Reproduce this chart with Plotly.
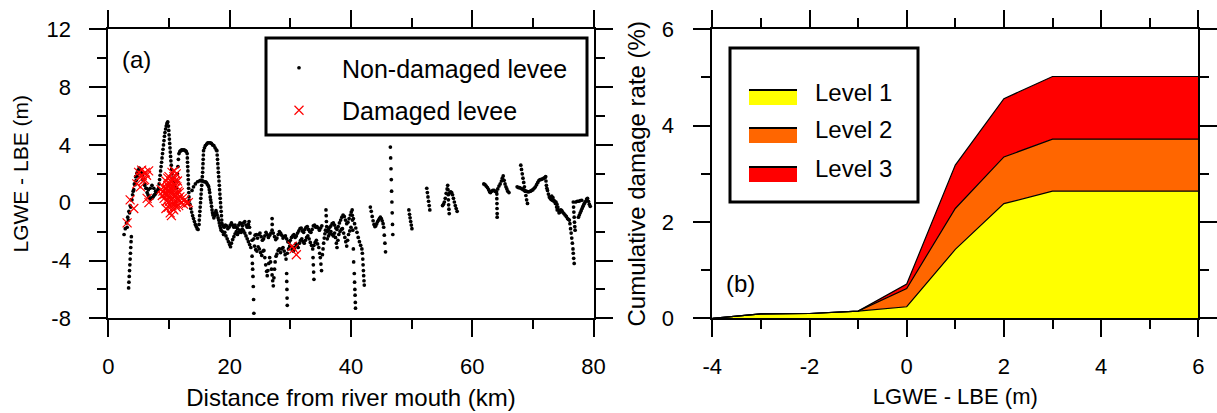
import plotly.graph_objects as go

# ---------------- Panel (a) data: LGWE - LBE along the river (km, m) ----------------
nd_0_10km = [
    (2.6,-2.2),(2.8,-1.8),(3.0,-1.4),(3.2,-1.0),(3.4,-0.6),(3.6,-0.2),(3.8,0.2),(4.0,0.55),(4.2,0.9),(4.4,1.25),
    (4.6,1.55),(4.8,1.85),(5.0,2.05),(5.15,2.15),(5.3,2.2),(5.45,2.05),(5.6,1.9),(5.8,1.6),(6.0,1.3),(6.2,1.0),
    (6.4,0.7),(6.55,0.55),(6.7,0.4),(6.85,0.3),(7.0,0.25),(7.15,0.3),(7.3,0.35),(7.45,0.45),(7.6,0.55),(7.75,0.6),
    (7.9,0.7),(8.05,0.8),(8.2,0.9),
    (8.3,1.0),(8.38,1.3),(8.46,1.6),(8.54,1.9),(8.62,2.2),(8.7,2.5),(8.78,2.8),(8.86,3.1),(8.94,3.4),(9.02,3.7),
    (9.1,4.0),(9.18,4.3),(9.26,4.6),(9.34,4.85),(9.45,5.1),(9.55,5.3),(9.65,5.45),(9.75,5.55),(9.8,5.6),
    (3.1,-1.7),(3.3,-1.2),(3.5,-0.7),(3.7,-0.3),(3.9,0.2),(4.1,0.8),(4.3,1.3),(4.5,1.8),(4.7,2.05),(4.9,2.25),
    (5.1,2.4),(5.4,2.1),(5.7,1.6),(6.0,1.2),(6.3,1.0),(6.6,0.9),(6.9,1.0),(7.2,1.2),(7.5,1.0),(7.8,0.8),
    (3.35,-5.9),(3.4,-5.5),(3.45,-5.1),(3.5,-4.7),(3.55,-4.3),(3.6,-3.9),(3.65,-3.5),(3.7,-3.1),(3.75,-2.7),(3.8,-2.35),
    (9.92,5.3),(9.97,5.0),(10.02,4.7),(10.07,4.4),(10.12,4.1),(10.17,3.8),(10.22,3.5),(10.27,3.2),(10.32,2.9),
    (10.38,2.6),(10.44,2.3),(10.5,2.0),(10.56,1.7),
]
nd_10_19km = [
    (10.75,1.4),(10.9,1.2),(11.05,1.05),(11.2,1.0),(11.3,1.5),(11.4,2.0),(11.48,2.5),(11.55,3.0),(11.65,3.4),(11.8,3.55),
    (11.95,3.6),(12.1,3.65),(12.3,3.65),(12.5,3.65),(12.7,3.6),(12.85,3.55),(13.0,3.4),
    (13.03,3.1),(13.06,2.8),(13.09,2.5),(13.12,2.2),(13.15,1.9),(13.18,1.6),(13.21,1.3),(13.24,1.0),(13.27,0.7),
    (13.3,0.4),(13.33,0.15),
    (13.45,-0.1),(13.6,-0.4),(13.75,-0.65),(13.9,-0.9),(14.05,-1.1),(14.2,-1.3),(14.35,-1.5),(14.5,-1.65),(14.65,-1.8),(14.8,-1.85),
    (14.95,-1.5),(15.0,-1.2),(15.05,-0.9),(15.1,-0.6),(15.15,-0.3),(15.2,0.0),(15.25,0.3),(15.3,0.6),(15.35,0.9),
    (15.4,1.2),(15.45,1.5),(15.5,1.8),(15.55,2.1),(15.58,2.4),(15.61,2.7),(15.64,3.0),(15.67,3.3),(15.7,3.6),
    (15.85,3.8),(16.0,3.95),(16.2,4.05),(16.4,4.15),(16.6,4.15),(16.8,4.15),(17.0,4.1),(17.2,4.0),(17.4,3.95),
    (17.6,3.8),(17.8,3.65),(17.9,3.6),
    (17.95,3.3),(18.0,3.0),(18.05,2.7),(18.1,2.4),(18.15,2.1),(18.2,1.8),(18.25,1.5),(18.3,1.2),(18.35,0.9),
    (18.4,0.6),(18.45,0.3),(18.5,0.0),(18.55,-0.3),(18.6,-0.6),(18.65,-0.9),(18.7,-1.2),(18.75,-1.45),
    (13.8,0.85),(14.05,1.1),(14.35,1.3),(14.7,1.45),(15.0,1.5),(15.2,1.55),(15.4,1.55),(15.6,1.5),(15.8,1.45),
    (16.0,1.45),(16.15,1.4),(16.3,1.3),(16.45,1.2),(16.55,1.1),(16.65,0.9),(16.72,0.7),(16.8,0.4),(16.87,0.2),
    (16.95,0.0),(17.02,-0.25),(17.1,-0.5),(17.18,-0.7),(17.25,-0.85),(17.4,-1.05),(17.5,-0.9),(17.6,-0.7),
    (17.75,-0.55),(17.85,-0.7),(17.95,-0.85),(18.1,-1.05),(18.2,-1.2),(18.3,-1.4),(18.4,-1.6),(18.5,-1.75),(18.6,-1.9),
]
nd_19_24km = [
    (18.9,-1.6),(19.1,-1.7),(19.3,-1.55),(19.5,-1.6),(19.7,-1.8),(19.9,-1.7),(20.1,-1.55),(20.3,-1.4),(20.5,-1.55),
    (20.7,-1.7),(20.9,-1.55),(21.1,-1.7),(21.3,-1.8),(21.5,-1.55),(21.7,-1.4),(21.9,-1.45),(22.1,-1.6),(22.3,-1.4),
    (22.5,-1.3),(22.7,-1.55),(22.9,-1.7),(23.1,-1.5),
    (18.8,-2.0),(19.0,-2.2),(19.2,-2.05),(19.4,-2.3),(19.6,-2.5),(19.8,-2.7),(20.0,-2.9),(20.15,-3.05),(20.3,-2.8),
    (20.5,-2.55),(20.7,-2.35),(20.9,-2.15),(21.1,-2.0),(21.3,-2.2),(21.5,-2.05),(21.7,-1.9),(21.9,-2.05),(22.1,-1.85),
    (22.3,-1.95),(22.5,-2.1),(22.7,-2.3),(22.9,-2.5),(23.1,-2.7),(23.3,-2.9),(23.5,-3.1),
    (23.2,-1.3),(23.28,-1.7),(23.36,-2.1),(23.7,-3.7),(23.75,-4.2),(23.8,-4.6),(23.85,-5.1),(23.9,-5.8),(23.95,-6.7),(24.0,-7.65),
]
nd_24_30km = [
    (23.7,-2.6),(24.0,-2.5),(24.2,-2.25),(24.4,-2.2),(24.6,-2.45),(24.8,-2.2),(25.0,-2.1),(25.2,-2.35),(25.4,-2.6),
    (25.6,-2.5),(25.8,-2.3),(26.0,-2.05),(26.2,-2.2),(26.4,-2.4),(26.6,-2.25),(26.8,-2.1),(27.0,-1.9),(27.2,-2.1),
    (27.4,-2.35),(27.6,-2.55),(27.8,-2.45),(28.0,-2.2),(28.2,-2.0),(28.4,-2.1),(28.6,-2.25),(28.8,-2.45),(29.0,-2.35),
    (29.2,-2.3),(29.4,-2.5),(29.6,-2.7),(29.8,-2.75),(30.0,-2.6),
    (24.1,-3.0),(24.3,-3.25),(24.5,-3.35),(24.7,-3.05),(24.9,-3.2),(25.1,-3.45),(25.3,-3.65),(25.5,-3.35),(25.65,-3.3),
    (25.8,-3.8),(25.95,-4.3),(26.1,-4.75),(26.2,-5.05),(26.3,-4.7),(26.45,-4.2),(26.6,-3.8),(26.75,-4.1),(26.9,-4.6),
    (27.0,-5.0),(27.1,-5.4),(27.2,-5.75),(27.3,-5.2),(27.4,-4.6),(27.5,-4.1),(27.65,-3.7),(27.8,-3.55),(28.0,-3.3),
    (28.2,-3.2),(28.4,-3.45),(28.6,-3.2),(28.8,-3.1),(29.0,-3.35),(29.15,-3.6),(29.3,-3.9),(29.5,-3.5),(29.7,-3.2),(29.9,-3.0),
    (27.0,-1.1),(27.02,-1.5),
    (29.4,-4.9),(29.42,-5.45),(29.45,-6.0),(29.47,-6.6),(29.5,-7.1),
]
nd_30_36km = [
    (30.2,-2.4),(30.4,-2.3),(30.6,-2.2),(30.8,-2.4),(31.0,-2.3),(31.2,-2.1),(31.4,-1.95),(31.6,-1.8),(31.8,-1.75),
    (32.0,-1.95),(32.2,-2.05),(32.4,-1.85),(32.6,-1.7),(32.8,-1.65),(33.0,-1.85),(33.2,-2.0),(33.4,-2.05),(33.6,-1.85),
    (33.8,-1.6),(34.0,-1.55),(34.2,-1.7),(34.4,-1.65),(34.6,-1.75),(34.8,-1.9),(35.0,-1.75),(35.2,-1.6),
    (30.1,-3.0),(30.3,-3.25),(30.5,-3.35),(30.7,-3.1),(30.9,-2.85),(31.1,-2.95),(31.3,-3.1),(31.5,-2.8),(31.7,-2.6),
    (31.9,-2.5),(32.1,-2.7),(32.3,-2.8),(32.5,-2.6),(32.7,-2.4),(32.9,-2.3),(33.1,-2.5),(33.3,-2.75),(33.5,-2.95),
    (33.7,-3.2),(33.9,-2.95),(34.1,-2.75),(34.3,-2.6),(34.5,-2.85),(34.7,-3.1),(34.85,-3.5),(34.95,-3.8),(35.05,-4.25),(35.15,-4.7),
    (33.75,-3.8),(33.8,-4.3),(33.85,-4.8),(33.9,-5.3),
    (35.3,-3.6),(35.4,-3.2),(35.5,-2.8),(35.6,-2.45),(35.7,-2.15),(35.8,-1.9),(35.88,-0.5),(35.92,-0.9),(35.96,-1.3),(36.0,-1.65),
]
nd_36_43km = [
    (36.1,-2.0),(36.3,-1.85),(36.5,-1.7),(36.7,-1.6),(36.9,-1.45),(37.1,-1.4),(37.3,-1.55),(37.5,-1.75),(37.7,-1.85),
    (37.9,-1.65),(38.1,-1.4),(38.3,-1.2),(38.5,-1.0),(38.7,-0.85),(38.9,-0.95),(39.1,-1.2),(39.3,-1.45),(39.5,-1.35),
    (39.7,-1.1),(39.9,-0.85),(40.05,-0.65),(40.2,-0.5),
    (36.1,-2.5),(36.3,-2.3),(36.5,-2.15),(36.7,-2.0),(36.9,-2.2),(37.1,-2.3),(37.3,-2.1),(37.45,-2.4),(37.6,-2.8),
    (37.7,-3.1),(37.85,-2.6),(38.0,-2.2),(38.2,-2.0),(38.4,-1.85),(38.6,-1.8),(38.8,-2.1),(39.0,-2.4),(39.15,-2.7),
    (39.3,-3.0),(39.45,-2.6),(39.6,-2.2),(39.8,-1.95),(40.0,-1.7),
    (40.22,-0.87),(40.25,-1.2),(40.3,-1.9),(40.4,-3.2),(40.45,-4.1),(40.55,-4.9),(40.6,-5.5),(40.65,-6.0),
    (40.68,-6.4),(40.72,-6.9),(40.75,-7.3),
    (40.4,-1.1),(40.6,-1.45),(40.8,-1.75),(41.0,-2.05),(41.2,-2.4),(41.4,-2.7),(41.6,-2.95),(41.8,-3.2),
    (41.88,-3.5),(41.95,-3.9),(42.0,-4.3),(42.05,-4.7),(42.1,-5.05),(42.15,-5.4),(42.2,-5.7),
]
nd_43_58km = [
    (43.2,-0.3),(43.35,-0.6),(43.5,-0.95),(43.65,-1.25),(43.8,-1.5),(43.95,-1.65),(44.1,-1.6),(44.25,-1.45),(44.4,-1.3),
    (44.55,-1.2),(44.7,-1.1),(44.85,-1.0),(45.0,-1.1),(45.15,-1.25),(45.3,-1.45),(45.4,-1.7),(45.5,-2.25),(45.6,-2.8),(45.7,-3.4),
    (46.5,3.85),(46.55,3.1),(46.6,2.35),(46.65,1.6),(46.7,0.8),(46.75,0.05),(46.8,-0.7),(46.85,-1.5),(46.9,-2.2),
    (49.55,-0.5),(49.65,-0.8),(49.75,-1.05),(49.85,-1.3),(49.95,-1.55),(50.05,-1.8),
    (52.5,1.0),(52.6,0.7),(52.7,0.4),(52.8,0.1),(52.9,-0.2),(53.0,-0.5),
    (55.1,-0.2),(55.25,-0.1),(55.4,0.05),(55.55,0.3),(55.7,0.65),(55.85,0.95),(55.95,1.2),(56.0,0.9),(56.03,0.55),
    (56.06,0.2),(56.1,-0.15),(56.15,-0.45),(56.2,-0.75),(56.15,0.6),(56.3,0.7),(56.45,0.75),(56.6,0.7),(56.75,0.55),
    (56.9,0.3),(57.05,0.05),(57.2,-0.2),(57.35,-0.4),(57.5,-0.6),
]
nd_61_80km = [
    (61.9,1.3),(62.1,1.25),(62.3,1.15),(62.5,1.05),(62.7,0.9),(62.85,0.75),(63.0,0.7),(63.2,0.8),(63.4,0.85),(63.6,0.85),
    (63.8,0.78),(64.0,0.75),(64.2,0.95),(64.4,1.15),(64.6,1.3),(64.8,1.5),(64.95,1.7),(65.1,1.85),(65.25,1.55),(65.4,1.3),
    (65.55,1.1),(65.7,0.95),(65.85,0.8),(66.05,0.7),
    (64.05,0.6),(64.05,0.28),(64.07,-0.06),(64.08,-0.4),(64.1,-0.75),(64.1,-1.0),
    (68.0,2.6),(68.12,2.3),(68.24,2.0),(68.36,1.7),(68.48,1.4),(68.6,1.1),(68.72,0.8),(68.84,0.5),(68.96,0.2),(69.1,-0.05),
    (67.4,1.1),(67.6,1.05),(67.8,1.05),(68.0,1.0),(68.2,0.95),(68.4,0.9),(68.6,0.85),(68.8,0.8),(69.0,0.78),(69.2,0.75),
    (69.4,0.77),(69.6,0.8),(69.8,0.85),(70.0,0.9),(70.2,1.0),(70.4,1.1),(70.6,1.25),(70.8,1.4),(71.0,1.55),(71.2,1.6),
    (71.4,1.62),(71.6,1.65),(71.8,1.7),(72.0,1.75),(72.1,1.8),
    (72.15,1.5),(72.22,1.2),(72.3,1.0),(72.4,0.85),(72.55,0.6),(72.7,0.4),(72.85,0.3),(73.0,0.22),(73.2,0.17),(73.4,0.12),
    (73.6,0.08),(73.8,0.05),(73.95,-0.1),(74.1,-0.3),(74.2,-0.5),(74.3,-0.7),(74.45,-0.65),(74.6,-0.5),(74.75,-0.55),
    (74.9,-0.65),(75.1,-0.75),(75.3,-0.85),(75.5,-0.95),(75.7,-1.1),(75.85,-1.15),(76.0,-1.2),
    (73.1,0.45),(73.3,0.35),(73.5,0.15),(73.7,-0.05),(73.9,-0.3),(74.0,-0.5),
    (76.1,-1.45),(76.2,-1.8),(76.3,-2.1),(76.4,-2.45),(76.5,-2.8),(76.6,-3.2),(76.65,-3.5),(76.72,-3.85),(76.8,-4.2),
    (76.65,0.05),(76.7,-0.3),(76.75,-0.65),(76.8,-1.0),(76.85,-1.35),(76.9,-1.65),(76.95,-1.9),
    (77.05,0.05),(77.3,0.1),(77.55,0.1),(77.8,0.15),(78.05,0.17),
    (77.5,-1.0),(77.65,-0.85),(77.8,-0.7),(77.95,-0.55),(78.1,-0.4),(78.25,-0.25),(78.4,-0.1),(78.55,0.0),(78.7,0.1),
    (78.85,0.25),(79.0,0.3),(79.15,0.1),(79.3,-0.1),(79.45,-0.25),
]
damaged = [
    (3.1,-1.4),(3.6,0.2),(4.2,-0.4),(4.7,1.3),(5.0,2.1),(5.5,2.25),(6.1,2.1),(6.65,2.2),(5.8,1.55),(5.3,1.1),
    (6.4,0.3),(6.7,0.0),(5.6,1.9),(6.0,1.6),(5.2,1.8),(6.3,1.9),
    (8.7,0.9),(8.9,0.5),(9.1,1.1),(9.2,0.3),(9.4,0.9),(9.5,1.5),(9.6,0.1),(9.7,0.6),(9.8,1.2),(9.9,-0.3),
    (10.0,0.4),(10.0,1.8),(10.1,1.0),(10.2,-0.7),(10.3,0.2),(10.3,1.5),(10.4,0.7),(10.5,-0.2),(10.5,2.1),(10.6,1.2),
    (10.7,0.3),(10.8,1.8),(10.8,-0.5),(10.9,0.9),(11.0,1.5),(11.0,-0.1),(11.1,0.5),(11.2,2.0),(11.3,1.1),(11.4,0.2),
    (11.5,0.8),(11.6,-0.2),(11.8,0.4),(12.0,0.0),(12.2,0.3),(12.4,-0.1),(12.6,0.2),(12.9,-0.05),(13.2,0.0),
    (10.4,-0.9),(9.5,-0.4),(10.7,1.6),
    (9.3,0.6),(9.6,1.0),(9.9,0.8),(10.1,0.1),(10.2,1.3),(10.4,1.0),(10.6,0.5),(10.6,-0.4),(10.9,0.2),(11.1,1.2),
    (11.2,-0.3),(11.3,0.6),(11.5,0.3),(11.7,0.7),(9.0,0.8),(9.8,1.7),(10.9,2.2),(11.4,1.5),
    (30.3,-3.0),(30.6,-3.2),(31.0,-3.6),
]

# ---------------- Panel (b) data: cumulative damage rate (%) by level ----------------
lgwe_lbe = [-4, -3, -2, -1, 0, 1, 2, 3, 4, 5, 6]
level1 = [0.0, 0.09, 0.10, 0.15, 0.24, 1.43, 2.38, 2.64, 2.64, 2.64, 2.64]
level2 = [0.0, 0.0, 0.0, 0.0, 0.38, 0.85, 0.97, 1.08, 1.08, 1.08, 1.08]
level3 = [0.0, 0.0, 0.0, 0.0, 0.09, 0.90, 1.21, 1.30, 1.30, 1.30, 1.30]
level_names = ["Level 1", "Level 2", "Level 3"]
level_colors = ["#ffff00", "#ff6600", "#ff0000"]

x1_ticks = [0, 20, 40, 60, 80]
y1_ticks = [-8, -4, 0, 4, 8, 12]
x2_ticks = [-4, -2, 0, 2, 4, 6]
y2_ticks = [0, 2, 4, 6]

FONT = "Liberation Sans, Arial, sans-serif"
W, H = 1217, 413

nd_all = nd_0_10km + nd_10_19km + nd_19_24km + nd_24_30km + nd_30_36km + nd_36_43km + nd_43_58km + nd_61_80km

fig = go.Figure()
fig.add_trace(go.Scatter(
    x=[p[0] for p in nd_all], y=[p[1] for p in nd_all], mode="markers",
    name="Non-damaged levee", legendgroup="a1",
    marker=dict(symbol="circle", size=3.7, color="black", line=dict(width=0)),
    xaxis="x", yaxis="y"))
fig.add_trace(go.Scatter(
    x=[p[0] for p in damaged], y=[p[1] for p in damaged], mode="markers",
    name="Damaged levee", legendgroup="a2",
    marker=dict(symbol="x-thin", size=9, color="#ff0000", line=dict(width=1.2, color="#ff0000")),
    xaxis="x", yaxis="y"))

for name, vals, col in zip(level_names, [level1, level2, level3], level_colors):
    fig.add_trace(go.Scatter(
        x=lgwe_lbe, y=vals, mode="lines", name=name, stackgroup="dmg",
        line=dict(color="black", width=1.2), fillcolor=col, showlegend=False,
        xaxis="x2", yaxis="y2"))

def axis_common(tickvals, rng, minor_dtick, domain, anchor, standoff):
    return dict(
        range=rng, domain=domain, anchor=anchor, automargin=False,
        tickmode="array", tickvals=tickvals, ticktext=[str(v) for v in tickvals],
        showline=True, linecolor="black", linewidth=2, mirror="allticks",
        ticks="outside", ticklen=17, tickwidth=1.5, tickcolor="black",
        minor=dict(dtick=minor_dtick, ticks="outside", ticklen=9, tickwidth=1.5, tickcolor="black", showgrid=False),
        showgrid=False, zeroline=False, ticklabelstandoff=standoff,
        tickfont=dict(family=FONT, size=22, color="black"),
    )

def px(x): return x / W
def py(y): return 1 - y / H

ydom = [1 - 318.3 / H, 1 - 29.3 / H]
fig.update_layout(
    template="none",
    width=W, height=H, margin=dict(l=0, r=0, t=0, b=0),
    paper_bgcolor="white", plot_bgcolor="white",
    xaxis=dict(**axis_common(x1_ticks, [0, 80], 10, [108.3 / W, 593.6 / W], "y", 10),
               title=dict(text="Distance from river mouth (km)", font=dict(family=FONT, size=24, color="black"), standoff=11)),
    yaxis=dict(**axis_common(y1_ticks, [-8, 12], 2, ydom, "x", 14),
               title=dict(text="LGWE - LBE (m)", font=dict(family=FONT, size=21, color="black"), standoff=12)),
    xaxis2=dict(**axis_common(x2_ticks, [-4, 6], 1, [712.3 / W, 1198.3 / W], "y2", 10),
                title=dict(text="LGWE - LBE (m)", font=dict(family=FONT, size=22, color="black"), standoff=11)),
    yaxis2=dict(**axis_common(y2_ticks, [0, 6], 1, ydom, "x2", 15),
                title=dict(text="Cumulative damage rate (%)", font=dict(family=FONT, size=24, color="black"), standoff=9)),
    legend=dict(x=px(256), y=py(45), xanchor="left", yanchor="top",
                borderwidth=0, bgcolor="rgba(0,0,0,0)",
                font=dict(family=FONT, size=25, color="black"), itemwidth=76, tracegroupgap=7),
    showlegend=True,
)

# frame of the panel (a) legend
fig.add_shape(type="rect", xref="paper", yref="paper", x0=px(266), x1=px(587), y0=py(135), y1=py(38),
              line=dict(color="black", width=3), fillcolor="white", layer="above")

# panel labels
fig.add_annotation(text="(a)", xref="x domain", yref="y domain", x=0.059, y=0.897, showarrow=False,
                   xanchor="center", yanchor="middle", font=dict(family=FONT, size=24, color="black"))
fig.add_annotation(text="(b)", xref="x2 domain", yref="y2 domain", x=0.059, y=0.122, showarrow=False,
                   xanchor="center", yanchor="middle", font=dict(family=FONT, size=24, color="black"))

# legend for panel (b) (drawn as a box with swatches)
fig.add_shape(type="rect", xref="paper", yref="paper", x0=px(730), x1=px(918), y0=py(202), y1=py(48),
              line=dict(color="black", width=3), fillcolor="white", layer="above")
sw_top = [90, 128, 167]
txt_y = [92, 130, 168]
for name, col, t, ty in zip(level_names, level_colors, sw_top, txt_y):
    fig.add_shape(type="rect", xref="paper", yref="paper", x0=px(749), x1=px(797), y0=py(t + 15), y1=py(t),
                  line=dict(width=0), fillcolor=col, layer="above")
    fig.add_shape(type="line", xref="paper", yref="paper", x0=px(749), x1=px(797), y0=py(t), y1=py(t),
                  line=dict(color="black", width=2), layer="above")
    fig.add_annotation(text=name, xref="paper", yref="paper", x=px(813), y=py(ty), xanchor="left", yanchor="middle",
                       showarrow=False, font=dict(family=FONT, size=24, color="black"))

fig.write_html("out.html")
